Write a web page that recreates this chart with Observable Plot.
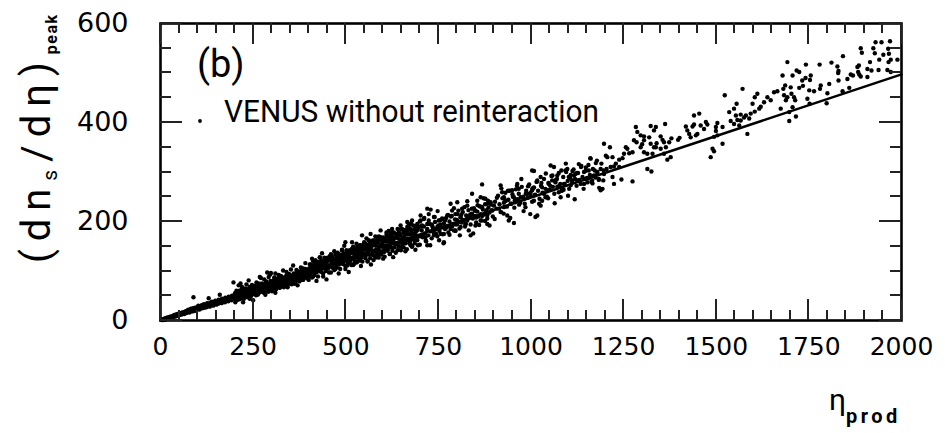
<!DOCTYPE html>
<html><head><meta charset="utf-8">
<script src="https://cdn.jsdelivr.net/npm/d3@7"></script>
<script src="https://cdn.jsdelivr.net/npm/@observablehq/plot@0.6"></script>
<style>html,body{margin:0;padding:0;background:#fff;}#chart{width:945px;height:433px;}</style>
</head><body><div id="chart"></div>
<script>
const xTicks = [0, 250, 500, 750, 1000, 1250, 1500, 1750, 2000];
const xTickLabels = ["0", "250", "500", "750", "1000", "1250", "1500", "1750", "2000"];
const xMinorTicks = [50,100,150,200,300,350,400,450,550,600,650,700,800,850,900,950,1050,1100,1150,1200,1300,1350,1400,1450,1550,1600,1650,1700,1800,1850,1900,1950];
const yTicks = [0, 200, 400, 600];
const yTickLabels = ["0", "200", "400", "600"];
const yMinorTicks = [50,100,150,250,300,350,450,500,550];
const fitX = [0, 2000];
const fitY = [0, 497];
const legendLabel = "VENUS without reinteraction";
const panelLabel = "(b)";

const events = [
[4,1],[6,2],[7,1],[9,3],[10,2],[12,4],[13,2],[15,5],[16,3],[18,4],[19,6],[21,5],[22,4],[24,7],[25,5],[27,6],[28,8],[30,7],[31,6],[33,9],[34,7],[36,8],[37,11],[39,9],[40,8],[42,12],[43,10],[45,9],[46,13],[48,11],[49,12],[51,14],[52,11],[54,15],[55,13],[57,12],[58,16],[60,14],[61,17],[63,15],[64,13],[66,18],[67,16],[69,19],[70,15],[72,20],[73,17],[75,22],[76,18],[78,16],[79,21],[81,19],[82,24],[84,20],[85,18],[87,23],[88,25],[90,21],[91,19],[93,26],[94,22],[96,24],[97,20],[99,27],[100,23],[102,30],[103,25],[105,22],[106,28],[108,26],[109,24],[111,31],[112,27],[114,25],[115,29],[117,33],[118,28],[120,26],[121,32],[123,30],[124,27],[126,35],[127,31],[129,29],[130,34],[132,32],[133,28],[135,36],[136,33],[138,31],[139,38],[141,34],[142,30],[144,37],[145,35],[147,33],[148,40],[150,36],[151,32],[153,39],[154,37],[156,34],[157,42],[159,38],[160,36],[162,41],[163,39],[165,35],[166,44],[168,40],[169,38],[171,43],[172,41],[174,37],[175,46],[177,42],[178,40],[180,45],[181,43],[183,39],[184,48],[186,44],[187,42],[189,47],[190,45],[192,41],[193,50],[195,46],[196,44],[198,49],[199,47],
[89,47],[130,45],[160,52],[197,77],[216,75],[288,97],[296,93],[310,95],[268,88],
[201,55],[202,44],[204,51],[205,47],[207,58],[208,42],[210,53],[211,49],[213,60],[214,45],[216,55],[217,51],[219,63],[220,48],[222,57],[223,53],[225,44],[226,60],[228,56],[229,50],[231,65],[232,54],[234,47],[235,59],[237,62],[238,52],[240,57],[241,68],[243,55],[244,49],[246,63],[247,59],[249,53],[250,66],[252,61],[253,56],[255,70],[256,58],[258,51],[259,64],[261,67],[262,60],[264,54],[265,72],[267,63],[268,57],[270,69],[271,65],[273,59],[274,75],[276,66],[277,62],[279,56],[280,71],[282,68],[283,63],[285,77],[286,60],[288,72],[289,66],[291,58],[292,74],[294,69],[295,64],[297,80],[298,71],[300,67],[301,61],[303,77],[304,73],[306,65],[307,83],[309,75],[310,70],[312,63],[313,79],[315,74],[316,68],[318,86],[319,77],[321,72],[322,66],[324,81],[325,76],[327,70],[328,88],[330,79],[331,74],[333,67],[334,84],[336,80],[337,72],[339,90],[340,82],[342,77],[343,70],[345,87],[346,83],[348,75],[349,93],[351,85],[352,80],[354,73],[355,90],[357,86],[358,78],[360,95],[361,88],[363,83],[364,76],[366,92],[367,89],[369,81],[370,98],[372,91],[373,86],[375,79],[376,95],[378,92],[379,84],[381,101],[382,94],[384,89],[385,82],[387,98],[388,95],[390,87],[391,104],[393,97],[394,92],[396,85],[397,101],[399,98],[400,90],
[202,37],[205,60],[208,48],[211,71],[214,43],[217,56],[220,68],[223,37],[226,64],[229,56],[232,73],[235,52],[238,81],[241,44],[244,64],[247,72],[250,41],[253,69],[256,61],[259,77],[262,52],[265,75],[268,63],[271,86],[274,58],[277,71],[280,83],[283,52],[286,79],[289,71],[292,88],[295,67],[298,96],[301,59],[304,79],[307,87],[310,56],[313,84],[316,76],[319,92],[322,67],[325,90],[328,78],[331,101],[334,73],[337,86],[340,98],[343,67],[346,94],[349,86],[352,103],[355,82],[358,111],[361,74],[364,94],[367,102],[370,71],[373,99],[376,91],[379,107],[382,82],[385,105],[388,93],[391,116],[394,88],[397,101],
[401,105],[403,92],[404,113],[406,99],[407,110],[409,87],[410,104],[412,119],[413,97],[415,114],[416,92],[418,109],[419,104],[421,119],[422,98],[424,113],[425,89],[427,118],[428,103],[430,127],[431,113],[433,99],[434,121],[436,106],[437,117],[439,95],[440,111],[442,127],[443,105],[445,121],[446,100],[448,116],[449,111],[451,127],[452,105],[454,121],[455,97],[457,125],[458,111],[460,134],[461,120],[463,107],[464,128],[466,114],[467,125],[469,102],[470,119],[472,134],[473,112],[475,129],[476,107],[478,124],[479,119],[481,134],[482,113],[484,128],[485,104],[487,133],[488,118],[490,142],[491,128],[493,114],[494,136],[496,121],[497,132],[499,110],[500,126],[502,142],[503,120],[505,136],[506,115],[508,131],[509,126],[511,142],[512,120],[514,136],[515,112],[517,140],[518,126],[520,149],[521,135],[523,122],[524,143],[526,129],[527,140],[529,117],[530,134],[532,149],[533,127],[535,144],[536,122],[538,139],[539,134],[541,149],[542,128],[544,143],[545,119],[547,148],[548,133],[550,157],[551,144],[553,126],[554,155],[556,135],[557,149],[559,120],[560,141],[562,162],[563,133],[565,154],[566,126],[568,147],[569,141],[571,161],[572,133],[574,153],[575,122],[577,158],[578,140],[580,170],[581,151],[583,134],[584,162],[586,143],[587,157],[589,127],[590,149],[592,169],[593,140],[595,162],[596,133],[598,155],[599,149],[601,168],[602,141],[604,160],[605,129],[607,166],[608,147],[610,178],[611,159],[613,141],[614,170],[616,150],[617,164],[619,135],[620,156],[622,177],[623,148],[625,169],[626,141],[628,162],[629,156],[631,176],[632,148],[634,168],[635,137],[637,173],[638,155],[640,185],[641,166],[643,149],[644,177],[646,158],[647,172],[649,142],[650,164],[652,184],[653,155],[655,177],[656,148],[658,170],[659,164],[661,183],[662,156],[664,175],[665,144],[667,181],[668,162],[670,193],[671,174],[673,156],[674,185],[676,165],[677,179],[679,150],[680,171],[682,192],[683,163],[685,184],[686,156],[688,177],[689,171],[691,191],[692,163],[694,183],[695,152],[697,188],[698,170],[700,200],
[400,82],[403,113],[406,97],[409,125],[412,89],[415,107],[418,122],[421,80],[424,115],[427,106],[430,128],[433,99],[436,136],[439,89],[442,115],[445,124],[448,83],[451,121],[454,110],[457,130],[460,97],[463,128],[466,112],[469,140],[472,104],[475,122],[478,137],[481,95],[484,130],[487,121],[490,143],[493,114],[496,151],[499,104],[502,130],[505,139],[508,98],[511,136],[514,125],[517,145],[520,112],[523,143],[526,127],[529,155],[532,119],[535,137],[538,152],[541,110],[544,145],[547,136],[550,158],[553,129],[556,166],[559,119],[562,145],[565,154],[568,113],[571,151],[574,140],[577,160],[580,127],[583,158],[586,142],[589,170],[592,134],[595,152],[598,167],[601,125],[604,160],[607,151],[610,173],[613,144],[616,181],[619,134],[622,160],[625,169],[628,128],[631,166],[634,155],[637,175],[640,142],[643,173],[646,157],[649,185],[652,149],[655,167],[658,182],[661,140],[664,175],[667,166],[670,188],[673,159],[676,196],[679,149],[682,175],[685,184],[688,143],[691,181],[694,170],[697,190],
[702,170],[705,182],[708,168],[711,190],[714,176],[717,160],[720,185],[723,172],[726,195],[729,180],[732,166],[735,188],[738,178],[741,199],[744,184],[747,170],[750,192],[753,181],[756,203],[759,188],[762,174],[765,196],[768,185],[771,207],[774,191],[777,178],[780,200],[783,190],[786,211],[789,195],[792,182],[795,204],[798,194],[801,215],[804,199],[807,186],[810,208],[813,198],[816,219],[819,203],[822,190],[825,212],[828,202],[831,223],[834,207],[837,194],[840,216],[843,206],[846,227],[849,211],[852,198],[855,220],[858,210],[861,231],[864,215],[867,202],[870,224],[873,214],[876,235],[879,219],[882,206],[885,228],[888,218],[891,239],[894,223],[897,210],[900,232],
[700,153],[704,190],[708,171],[712,207],[716,161],[720,183],[724,202],[728,152],[732,194],[736,182],[740,209],[744,175],[748,221],[752,162],[756,194],[760,206],[764,156],[768,202],[772,188],[776,213],[780,173],[784,210],[788,191],[792,227],[796,181],[800,203],[804,222],[808,172],[812,214],[816,202],[820,229],[824,195],[828,241],[832,182],[836,214],[840,226],[844,176],[848,222],[852,208],[856,233],[860,193],[864,230],[868,211],[872,247],[876,201],[880,223],[884,242],[888,192],[892,234],[896,222],
[868,275],[841,256],[855,242],[864,249],[877,246],[882,236],[868,229],[850,222],[841,215],[828,232],[814,226],[801,239],[783,236],[796,215],[787,222],[774,212],[765,205],[751,202],[738,209],[729,224],[720,226],[724,215],[711,205],[702,202],[693,195],[706,192],[720,195],[733,192],[747,189],[756,175],[765,158],[783,185],[796,182],[810,189],[823,195],[837,172],[850,192],[864,202],[882,212],[882,195],[828,209],[810,209],[675,195],[666,189],[652,185],[643,178],[630,178],[621,175],[612,172],[603,165],[594,168],[585,165],[576,162],[567,158],[558,152],[549,155],[540,152],[531,148],[522,141],[513,138],[504,135],[499,158],[517,158],[544,172],[567,175],[594,182],[625,185],[648,192],[666,199],[679,202],[702,212],[675,152],[693,162],[715,168],[720,152],[621,148],[603,138],[585,141],[562,135],[540,121],[522,114],[504,111],[531,128],[576,131],[607,145],[634,155],[657,158],[684,168],[738,172],[765,175],[801,195],
[903,240],[907,226],[911,252],[915,235],[919,219],[923,247],[927,238],[931,258],[935,230],[939,244],[943,262],[947,236],[951,250],[955,228],[959,265],[963,245],[967,256],[971,238],[975,270],[979,250],[983,236],[987,262],[991,248],[995,275],[999,258],[1003,240],[1007,268],[1011,254],[1015,280],[1019,262],[1023,246],[1027,272],[1031,258],[1035,286],[1039,266],[1043,250],[1047,278],[1051,264],[1055,292],[1059,270],[1063,256],[1067,284],[1071,270],[1075,298],[1079,276],[1083,262],[1087,290],[1091,276],[1095,300],[1099,282],[1103,266],[1107,294],[1111,280],[1115,305],[1119,286],[1123,272],[1127,298],[1131,284],[1135,310],[1139,290],[1143,276],[1147,302],[1151,288],[1155,314],[1159,294],[1163,280],[1167,306],[1171,292],[1175,318],[1179,298],[1183,284],
[902,205],[908,248],[914,226],[920,267],[926,216],[932,242],[938,262],[944,207],[950,255],[956,242],[962,272],[968,234],[974,286],[980,221],[986,256],[992,271],[998,215],[1004,267],[1010,253],[1016,281],[1022,236],[1028,278],[1034,257],[1040,297],[1046,247],[1052,272],[1058,293],[1064,237],[1070,286],[1076,272],[1082,303],[1088,264],[1094,317],[1100,252],[1106,287],[1112,302],[1118,245],[1124,298],[1130,283],[1136,312],[1142,266],[1148,309],[1154,287],[1160,328],[1166,277],[1172,303],[1178,323],[1184,268],[1190,317],[1196,303],
[918,273],[922,259],[927,249],[931,242],[927,229],[918,219],[936,212],[954,197],[940,202],[945,236],[954,249],[949,263],[963,276],[967,266],[972,249],[967,242],[958,239],[981,246],[985,229],[990,256],[999,252],[1003,263],[1008,269],[1008,242],[1012,209],[1017,212],[1017,283],[1008,302],[1003,303],[1026,290],[1030,269],[1035,256],[1030,242],[1026,232],[1039,249],[1044,263],[1048,276],[1053,313],[1062,310],[1057,283],[1066,279],[1071,293],[1075,259],[1080,249],[1084,263],[1089,276],[1093,303],[1098,306],[1102,290],[1107,273],[1111,283],[1116,293],[1120,296],[1125,283],[1129,316],[1134,276],[1143,300],[1147,286],[1152,279],[1156,303],[1161,327],[1165,283],[1170,293],[1174,289],[1179,300],[1183,286],[1188,263],
[1930,562],[1946,562],[1969,564],[1964,549],[1951,537],[1924,550],[1928,540],[1890,550],[1893,541],[1966,539],[1971,527],[1965,522],[1989,527],[1940,527],[1915,522],[1885,515],[1881,512],[1908,508],[1919,505],[1883,502],[1886,497],[1962,506],[1971,502],[1938,506],[1842,534],[1811,521],[1827,513],[1830,504],[1829,500],[1779,517],[1742,517],[1692,522],[1717,505],[1724,502],[1706,495],[1679,495],[1686,475],[1681,468],[1701,471],[1703,458],[1710,451],[1713,445],[1692,451],[1688,445],[1741,490],[1753,486],[1732,485],[1724,470],[1751,465],[1746,448],[1752,438],[1764,463],[1780,468],[1800,459],[1805,478],[1782,475],[1830,485],[1863,497],[1869,495],[1859,470],[1841,463],[1798,439],[1755,495],[1734,474],[1854,488],[1890,493],[1908,492],
[1665,463],[1656,461],[1683,455],[1674,428],[1706,431],[1697,421],[1715,412],[1697,403],[1638,451],[1647,445],[1629,441],[1620,432],[1616,428],[1611,458],[1604,451],[1598,438],[1604,422],[1593,418],[1580,414],[1566,416],[1575,410],[1589,408],[1571,468],[1555,438],[1535,421],[1548,428],[1553,414],[1557,405],[1539,403],[1548,397],[1566,404],[1562,394],[1584,377],[1523,455],[1517,391],[1503,374],[1499,383],[1494,371],[1503,399],[1499,391],[1476,396],[1472,401],[1467,387],[1458,394],[1449,377],[1440,414],[1454,418],[1440,396],[1436,392],[1431,370],[1418,392],[1422,384],[1427,377],[1445,374],[1485,330],[1490,347],[1494,342],[1517,357],
[1397,365],[1401,369],[1379,368],[1373,360],[1364,350],[1359,360],[1350,372],[1355,365],[1362,397],[1350,347],[1359,337],[1377,330],[1368,325],[1337,391],[1332,384],[1323,393],[1319,370],[1305,372],[1296,374],[1283,391],[1278,364],[1285,360],[1274,340],[1260,347],[1256,350],[1265,338],[1251,337],[1247,328],[1238,325],[1238,310],[1229,317],[1224,311],[1220,330],[1213,350],[1197,357],[1202,333],[1206,330],[1215,310],[1204,306],[1188,306],[1197,296],[1195,283],[1193,266],[1220,290],[1224,276],[1244,285],[1274,281],[1314,306],[1325,301],[1296,350],[1305,340],[1314,337],[1328,337],[1332,350],[1337,350],[1339,358],[1323,357],[1287,381],[1300,356],[1305,364]
];

const W = 945, H = 433, mL = 160, mR = 44, mT = 23, mB = 113;
const fitData = fitX.map((x, i) => ({x, y: fitY[i]}));

const plot = Plot.plot({
  width: W, height: H,
  marginLeft: mL, marginRight: mR, marginTop: mT, marginBottom: mB,
  style: {fontFamily: "DejaVu Sans", background: "#fff", color: "#000"},
  x: {domain: [0, 2000]},
  y: {domain: [0, 600]},
  marks: [
    Plot.dot(events, {x: d => d[0], y: d => d[1], r: 2.2, fill: "#000", stroke: "none"}),
    Plot.line(fitData, {x: "x", y: "y", stroke: "#000", strokeWidth: 2.4}),
    Plot.frame({stroke: "#000", strokeWidth: 2.6}),
    Plot.axisX(xTicks, {anchor: "bottom", tickSize: 0, tickPadding: 17, fontSize: 25, label: null,
      tickFormat: d => xTickLabels[xTicks.indexOf(d)]}),
    Plot.axisY(yTicks, {anchor: "left", tickSize: 0, tickPadding: 32, fontSize: 27, label: null,
      tickFormat: d => yTickLabels[yTicks.indexOf(d)]})
  ]
});
document.getElementById("chart").appendChild(plot);

const svg = d3.select(plot);
const sx = plot.scale("x"), sy = plot.scale("y");
const X0 = Math.round(sx.apply(0)), X1 = Math.round(sx.apply(2000));
const Y0 = Math.round(sy.apply(0)), Y1 = Math.round(sy.apply(600));
// inward ticks on all four sides, pixel-aligned solid bars placed with Plot's scales
const tg = svg.append("g").attr("fill", "#222").attr("shape-rendering", "crispEdges");
const tw = 2;
function xTick(v, len) {
  const px = Math.round(sx.apply(v)) - 1;
  tg.append("rect").attr("x", px).attr("width", tw).attr("y", Y0 - len).attr("height", len);
  tg.append("rect").attr("x", px).attr("width", tw).attr("y", Y1).attr("height", len);
}
function yTick(v, len) {
  const py = Math.round(sy.apply(v)) - 1;
  tg.append("rect").attr("y", py).attr("height", tw).attr("x", X0).attr("width", len);
  tg.append("rect").attr("y", py).attr("height", tw).attr("x", X1 - len).attr("width", len);
}
xTicks.forEach(v => xTick(v, 21));
xMinorTicks.forEach(v => xTick(v, 10));
yTicks.forEach(v => yTick(v, 22));
yMinorTicks.forEach(v => yTick(v, 11));

const ann = svg.append("g").attr("fill", "#000").attr("text-anchor", "start").style("font-family", "Roboto");
// panel label
ann.append("text").attr("x", 197).attr("y", 77).attr("font-size", 38).text(panelLabel);
// legend
ann.append("circle").attr("cx", 200).attr("cy", 121).attr("r", 1.9);
ann.append("text").attr("x", 224).attr("y", 122).attr("font-size", 31)
  .attr("textLength", 375).attr("lengthAdjust", "spacingAndGlyphs").text(legendLabel);
// y title
const ytl = ann.append("text").attr("transform", "translate(50,263) rotate(-90)")
  .attr("font-size", 40).style("letter-spacing", "8px");
ytl.append("tspan").text("(dn");
ytl.append("tspan").attr("font-size", 21).attr("dy", 7).text("s");
ytl.append("tspan").attr("dy", -7).text("/dη)");
ytl.append("tspan").attr("font-size", 16).attr("font-weight", "bold").attr("dy", 7)
  .style("letter-spacing", "1.5px").text("peak");
// x title
const xtl = ann.append("text").attr("x", 829).attr("y", 410).attr("font-size", 30);
xtl.append("tspan").text("η");
xtl.append("tspan").attr("font-size", 20).attr("font-weight", "bold").attr("dy", 13)
  .style("letter-spacing", "3.5px").text("prod");
</script>
</body></html>
